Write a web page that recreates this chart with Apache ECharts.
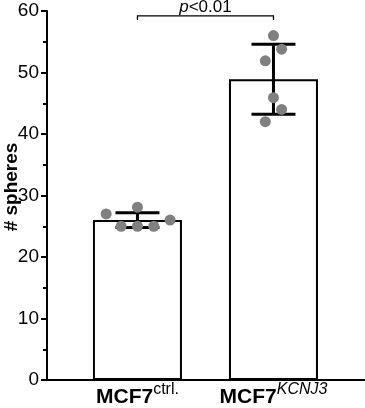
<!DOCTYPE html>
<html>
<head>
<meta charset="utf-8">
<script src="https://cdn.jsdelivr.net/npm/echarts@6/dist/echarts.min.js"></script>
<style>html,body{margin:0;padding:0;background:#fff;}#c{width:365px;height:408px;}</style>
</head>
<body>
<div id="c"></div>
<script>
const categories = ['MCF7', 'MCF7'];
const superscripts = ['ctrl.', 'KCNJ3'];
const superItalic = [false, true];
const means = [26.0, 48.9];
const sds = [1.2, 5.7];
const points = [
  [27.0, 28.1, 26.0, 25.0, 25.0, 25.0],
  [56.0, 53.8, 51.9, 45.9, 44.0, 42.0]
];
const jitter = [
  [-0.23, 0, 0.24, -0.12, 0, 0.12],
  [0, 0.06, -0.06, 0, 0.06, -0.06]
];
const yTicks = { min: 0, max: 60, interval: 10 };
const yName = '# spheres';
const significance = { from: 1, to: 2, y: 59.2, text: 'p<0.01' };

const positions = categories.map((c, i) => i + 1);

const barData = positions.map((x, i) => [x, means[i]]);
const errData = positions.map((x, i) => [x, means[i] - sds[i], means[i] + sds[i]]);
const dotData = [];
points.forEach((arr, i) => arr.forEach((v, j) => dotData.push([positions[i] + jitter[i][j], v])));

const chart = echarts.init(document.getElementById('c'));
chart.setOption({
  animation: false,
  backgroundColor: '#fff',
  grid: { left: 47, right: 0, top: 11, bottom: 28, containLabel: false, outerBoundsMode: 'none' },
  xAxis: {
    type: 'value', min: 0.335, max: 2.673,
    splitLine: { show: false },
    axisLine: { show: true, onZero: false, lineStyle: { color: '#000', width: 2 } },
    axisTick: { show: false },
    axisLabel: {
      customValues: positions,
      margin: 2,
      formatter: function (v) {
        const i = positions.indexOf(Math.round(v));
        if (i < 0) return '';
        return '{b|' + categories[i] + '}{' + (superItalic[i] ? 'si' : 's') + '|' + superscripts[i] + '}';
      },
      rich: {
        b: { fontFamily: 'Liberation Sans', fontWeight: 'bold', fontSize: 21, color: '#000', lineHeight: 26, verticalAlign: 'bottom' },
        s: { fontFamily: 'Liberation Sans', fontSize: 16, color: '#000', lineHeight: 26, verticalAlign: 'top' },
        si: { fontFamily: 'Liberation Sans', fontSize: 16, fontStyle: 'italic', color: '#000', lineHeight: 26, verticalAlign: 'top' }
      }
    }
  },
  yAxis: {
    type: 'value', min: yTicks.min, max: yTicks.max, interval: yTicks.interval,
    name: yName, nameLocation: 'middle', nameGap: 26, nameMoveOverlap: false,
    nameTextStyle: { fontFamily: 'Liberation Sans', fontWeight: 'bold', fontSize: 19, color: '#000', padding: [0, 0, 0, 17] },
    splitLine: { show: false },
    axisLine: { show: true, lineStyle: { color: '#000', width: 2 } },
    axisTick: { show: true, length: 6, lineStyle: { color: '#000', width: 2 } },
    minorTick: { show: true, splitNumber: 2, length: 4, lineStyle: { color: '#000', width: 2 } },
    axisLabel: { fontFamily: 'Liberation Sans', fontSize: 19, color: '#000', margin: 8 }
  },
  series: [
    {
      type: 'bar', data: barData, barWidth: 89,
      itemStyle: { color: '#fff', borderColor: '#000', borderWidth: 2 },
      z: 2
    },
    {
      type: 'custom', data: errData, z: 3,
      renderItem: function (params, api) {
        const x = api.value(0);
        const lo = api.coord([x, api.value(1)]);
        const hi = api.coord([x, api.value(2)]);
        const hw = 22;
        const st = { stroke: '#000', lineWidth: 3, fill: null };
        return {
          type: 'group', children: [
            { type: 'line', shape: { x1: lo[0], y1: lo[1], x2: hi[0], y2: hi[1] }, style: st },
            { type: 'line', shape: { x1: hi[0] - hw, y1: hi[1], x2: hi[0] + hw, y2: hi[1] }, style: st },
            { type: 'line', shape: { x1: lo[0] - hw, y1: lo[1], x2: lo[0] + hw, y2: lo[1] }, style: st }
          ]
        };
      }
    },
    {
      type: 'scatter', data: dotData, symbolSize: 11, z: 4,
      itemStyle: { color: '#808080', opacity: 1 }
    },
    {
      type: 'custom', data: [[significance.from, significance.to, significance.y]], z: 5,
      renderItem: function (params, api) {
        const a = api.coord([api.value(0), api.value(2)]);
        const b = api.coord([api.value(1), api.value(2)]);
        const st = { stroke: '#000', lineWidth: 1.3, fill: null };
        return {
          type: 'group', children: [
            { type: 'polyline', shape: { points: [[a[0], a[1] + 4], [a[0], a[1]], [b[0], b[1]], [b[0], b[1] + 4]] }, style: st },
            { type: 'text', style: {
                x: (a[0] + b[0]) / 2, y: a[1] - 0.5,
                text: '{i|p}{n|<0.01}',
                align: 'center', verticalAlign: 'bottom',
                rich: {
                  i: { fontFamily: 'Liberation Sans', fontStyle: 'italic', fontSize: 17, fill: '#000' },
                  n: { fontFamily: 'Liberation Sans', fontSize: 17, fill: '#000' }
                }
              } }
          ]
        };
      }
    }
  ]
});
</script>
</body>
</html>
